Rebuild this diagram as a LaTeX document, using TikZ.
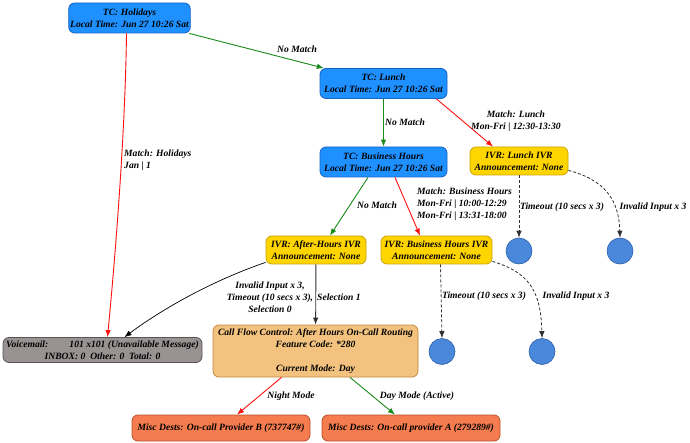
\documentclass[tikz,border=0pt]{standalone}
\usepackage{fontspec}
\setmainfont{Liberation Serif}
\usetikzlibrary{arrows.meta}
\definecolor{tcfill}{HTML}{1E90FF}
\definecolor{tcdraw}{HTML}{1763C4}
\definecolor{ivrfill}{HTML}{FFD500}
\definecolor{ivrdraw}{HTML}{C9A200}
\definecolor{cfcfill}{HTML}{F2C27E}
\definecolor{cfcdraw}{HTML}{C08A40}
\definecolor{miscfill}{HTML}{F47C4E}
\definecolor{miscdraw}{HTML}{B8502A}
\definecolor{vmfill}{HTML}{989292}
\definecolor{vmdraw}{HTML}{5A5555}
\definecolor{dotfill}{HTML}{4A88DC}
\definecolor{dotdraw}{HTML}{2A5EA8}
\definecolor{egreen}{HTML}{1A8A1A}
\definecolor{ered}{HTML}{FF1010}
\definecolor{edark}{HTML}{303030}
\begin{document}
\begin{tikzpicture}[x=1pt,y=-1pt,
  txt/.style={font=\bfseries\itshape\fontsize{9.6}{11.8}\selectfont},
  box/.style={txt, draw, rounded corners=6pt, align=center, inner sep=1.5pt, line width=0.8pt},
  tc/.style={box, fill=tcfill, draw=tcdraw, minimum height=30pt},
  ivr/.style={box, fill=ivrfill, draw=ivrdraw, minimum height=28pt},
  cfc/.style={box, fill=cfcfill, draw=cfcdraw},
  misc/.style={box, fill=miscfill, draw=miscdraw, minimum height=26pt},
  vm/.style={box, fill=vmfill, draw=vmdraw, minimum height=25pt},
  dot/.style={circle, fill=dotfill, draw=dotdraw, line width=0.6pt, minimum size=26pt, inner sep=0pt},
  lbl/.style={txt, align=center, inner sep=0pt},
  lbll/.style={txt, align=left, inner sep=0pt, anchor=west},
  arr/.style={-{Latex[length=7pt,width=5.5pt]}, line width=0.9pt},
  dsh/.style={arr, edark, dashed, dash pattern=on 3pt off 2pt, line width=0.8pt}]
\useasboundingbox (0,0) rectangle (690,443);

\node[tc, minimum width=115pt] (hol) at (129.5,18) {TC: Holidays\\Local Time: Jun 27 10:26 Sat};
\node[tc, minimum width=127pt] (lun) at (383.5,83.5) {TC: Lunch\\Local Time: Jun 27 10:26 Sat};
\node[tc, minimum width=127pt] (bus) at (383.5,162) {TC: Business Hours\\Local Time: Jun 27 10:26 Sat};
\node[ivr, minimum width=98pt] (ivrl) at (519,161) {IVR: Lunch IVR\\Announcement: None};
\node[ivr, minimum width=100pt] (ivra) at (316,250) {IVR: After-Hours IVR\\Announcement: None};
\node[ivr, minimum width=111pt] (ivrb) at (436.5,250) {IVR: Business Hours IVR\\Announcement: None};
\node[dot] (c1) at (519,251) {};
\node[dot] (c2) at (620,251) {};
\node[dot] (c3) at (442,351.5) {};
\node[dot] (c4) at (542,351.5) {};
\node[vm, minimum width=199pt] (vm) at (102.5,350) {Voicemail:\hspace{2.2em}101 x101 (Unavailable Message)\\INBOX: 0\ \ Other: 0\ \ Total: 0};
\node[cfc, minimum width=205pt, minimum height=52pt] (cfc) at (315.5,351) {Call Flow Control: After Hours On-Call Routing\\Feature Code: *280\\[11.8pt]Current Mode: Day};
\node[misc, minimum width=178pt] (mb) at (221,428) {Misc Dests: On-call Provider B (737747\#)};
\node[misc, minimum width=178pt] (ma) at (411,428) {Misc Dests: On-call provider A (279289\#)};

% edges
\draw[arr, egreen] (hol) -- (lun);
\draw[arr, ered] ([xshift=-3pt]hol.south) .. controls (125,150) and (112,290) .. ([xshift=5pt]vm.north);
\draw[arr, egreen] (lun) -- (bus);
\draw[arr, ered] ([xshift=53pt]lun.south) -- ([xshift=-26pt]ivrl.north);
\draw[arr, egreen] ([xshift=-15.5pt]bus.south) -- ([xshift=14pt]ivra.north);
\draw[arr, ered] ([xshift=11.5pt]bus.south) -- ([xshift=-16.5pt]ivrb.north);
\draw[dsh] (ivrl) -- (c1);
\draw[dsh] ([yshift=5pt]ivrl.south east) .. controls (605,180) and (619,200) .. (c2.north);
\draw[dsh] ([xshift=4pt]ivrb.south) -- (c3.north);
\draw[dsh] ([yshift=3pt]ivrb.south east) .. controls (528,272) and (541,290) .. (c4.north);
\draw[arr, edark] (ivra) -- (cfc);
\draw[arr, black, line width=0.7pt] ([yshift=2pt]ivra.south west) .. controls (200,285) and (150,318) .. ([xshift=22pt]vm.north);
\draw[arr, ered] ([xshift=-34pt]cfc.south) -- ([xshift=16pt]mb.north);
\draw[arr, egreen] ([xshift=34.5pt]cfc.south) -- ([xshift=-16pt]ma.north);

% labels
\node[lbl] (l1) at (297,49) {No Match};
\node[lbll] (l2) at (124,160.5) {Match: Holidays\\Jan | 1};
\node[lbl] (l3) at (405,122) {No Match};
\node[lbl] (l4) at (516,121.5) {Match: Lunch\\Mon-Fri | 12:30-13:30};
\node[lbl] (l5) at (377,205) {No Match};
\node[lbll] (l6) at (417,204) {Match: Business Hours\\Mon-Fri | 10:00-12:29\\Mon-Fri | 13:31-18:00};
\node[lbl] (l7) at (562,207) {Timeout (10 secs x 3)};
\node[lbl] (l8) at (653,207) {Invalid Input x 3};
\node[lbl] (l9) at (484,296) {Timeout (10 secs x 3)};
\node[lbl] (l10) at (576,296) {Invalid Input x 3};
\node[lbl] (l11) at (270,297.5) {Invalid Input x 3,\\Timeout (10 secs x 3),\\Selection 0};
\node[lbl, anchor=west] (l12) at (317,297.5) {Selection 1};
\node[lbl] (l13) at (291,396) {Night Mode};
\node[lbl] (l14) at (417,396) {Day Mode (Active)};
\end{tikzpicture}
\end{document}
